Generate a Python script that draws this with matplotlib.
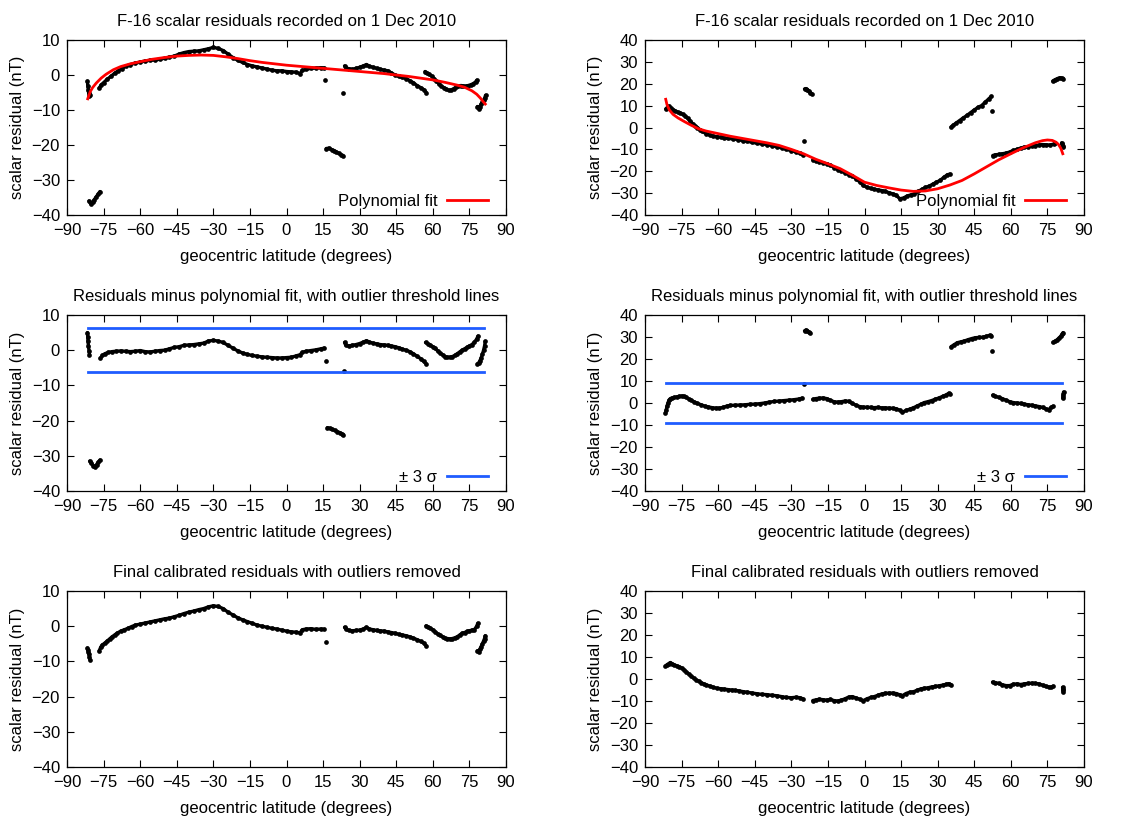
import numpy as np
import matplotlib
matplotlib.use("Agg")
import matplotlib.pyplot as plt

nan = np.nan

# ---------------------------------------------------------------------------
# Data (geocentric latitude in degrees, scalar residual in nT).
# NaN entries separate the individual passes / clusters of a series.
# ---------------------------------------------------------------------------

# Left column, row 1: raw residuals
tl_lat = [-81.6, -81.5, -81.3, -81.1, -80.8, -80.5, nan,
          -81.0, -80.3, -79.5, -78.8, -78.0, -77.2, -76.5, nan,
          -76.8, -76.0, -75.0, -73.5, -72.0, -70.5, -69.0, -67.5, -66.0, -64.0, -62.0, -60.0,
          -58.0, -56.0, -54.0, -52.0, -50.0, -48.0, -46.0, -44.0, -42.0, -40.0, -38.0, -36.0,
          -34.0, -32.0, -30.0, -28.0, -26.0, -24.0, -22.0, -20.0, -18.0, -16.0, -14.0, -12.0,
          -10.0, -8.0, -6.0, -4.0, -2.0, 0.0, 2.0, 4.0, 5.5, 6.5, 8.0, 10.0, 12.0, 14.0, 15.5, nan,
          15.8, nan,
          16.3, 17.5, 18.5, 19.5, 20.5, 21.5, 22.5, 23.2, nan,
          23.0, nan,
          23.8, 24.5, 25.5, 27.0, 28.5, 30.0, 31.5, 32.8, 34.0, 35.5, 37.0, 38.5, 40.0, 41.5,
          43.0, 44.5, 46.0, 47.5, 49.0, 50.5, 52.0, 53.5, 55.0, 56.3, 57.3, nan,
          56.8, 57.5, 58.5, 59.5, 60.5, 61.5, 62.5, 63.5, 64.5, 65.5, 66.5, 67.5, 68.5, 69.5,
          70.5, 71.5, 72.5, 73.5, 74.5, 75.5, 76.5, 77.5, 78.0, nan,
          78.3, 78.8, 79.3, 79.8, 80.3, 80.8, 81.3, 81.6]
tl_val = [-1.8, -3.0, -4.2, -5.2, -6.0, -5.6, nan,
          -36.0, -36.8, -36.3, -35.6, -34.8, -34.0, -33.3, nan,
          -3.8, -2.8, -2.2, -1.2, -0.4, 0.5, 1.2, 1.8, 2.5, 3.0, 3.4, 3.7,
          4.0, 4.2, 4.3, 4.5, 4.8, 5.1, 5.4, 6.0, 6.4, 6.7, 6.8, 6.9,
          7.2, 7.5, 7.9, 7.6, 7.0, 6.0, 5.0, 4.2, 3.6, 3.0, 2.6, 2.3,
          2.0, 1.7, 1.4, 1.2, 1.2, 1.0, 0.9, 0.8, 0.4, 1.3, 1.6, 1.9, 2.0, 2.1, 2.0, nan,
          -1.4, nan,
          -21.0, -20.9, -21.3, -21.6, -22.0, -22.4, -22.8, -23.0, nan,
          -5.0, nan,
          2.6, 2.0, 1.8, 1.6, 1.9, 2.2, 2.6, 3.0, 2.5, 2.2, 1.9, 1.6, 1.4, 1.2,
          0.6, 0.0, -0.4, -0.7, -1.0, -1.6, -2.2, -3.0, -3.6, -4.2, -5.0, nan,
          1.0, 0.5, 0.2, -0.3, -1.0, -1.8, -2.5, -3.2, -3.6, -4.0, -4.4, -4.3, -3.9, -3.5,
          -3.2, -3.0, -3.1, -3.2, -3.0, -2.8, -2.5, -2.0, -1.5, nan,
          -9.0, -9.6, -9.0, -8.3, -7.8, -7.2, -6.5, -5.8]

tl_fit_lat = [-81.5, -80.5, -79.5, -78.0, -76.0, -74.0, -71.0, -68.0, -64.0, -60.0, -55.0,
              -50.0, -45.0, -40.0, -35.0, -30.0, -25.0, -20.0, -15.0, -10.0, -5.0, 0.0, 10.0,
              20.0, 30.0, 40.0, 45.0, 50.0, 55.0, 60.0, 65.0, 70.0, 73.0, 76.0, 78.0, 79.5,
              80.5, 81.5]
tl_fit_val = [-6.8, -4.8, -3.6, -2.3, -0.9, 0.2, 1.5, 2.4, 3.2, 3.8, 4.5, 5.0, 5.4, 5.6, 5.7,
              5.6, 5.2, 4.7, 4.1, 3.6, 3.2, 2.8, 2.2, 1.6, 1.0, 0.4, 0.0, -0.4, -0.9, -1.4,
              -2.1, -2.9, -3.5, -4.5, -5.5, -6.6, -7.5, -8.3]

# Right column, row 1: raw residuals
tr_lat = [-81.5, -81.0, -80.3, -79.5, -78.5, -77.5, -76.5, -75.5, -74.5, -73.5, -72.5, -71.5,
          -70.5, -69.5, -68.5, -67.5, -66.5, -65.0, -63.5, -62.0, -60.5, -59.0, -57.5, -56.0,
          -54.0, -52.0, -50.0, -48.0, -46.0, -44.0, -42.0, -40.0, -38.0, -36.0, -34.0, -32.0,
          -30.0, -28.0, -26.5, -25.3, nan,
          -24.8, nan,
          -24.6, -24.0, -23.4, -22.8, -22.2, -21.6, nan,
          -21.2, -20.0, -18.5, -17.0, -15.5, -14.0, -12.5, -11.0, -9.5, -8.0, -6.5, -5.0,
          -3.5, -2.0, -0.5, 1.0, 2.5, 4.0, 5.5, 7.0, 8.5, 10.0, 11.5, 13.0, 14.5, 16.0, 17.5,
          19.0, 20.5, 22.0, 23.5, 25.0, 26.5, 28.0, 29.5, 31.0, 32.5, 34.0, 35.0, nan,
          35.5, 36.3, 37.5, 39.0, 40.5, 42.0, 43.5, 45.0, 46.5, 48.0, 49.5, 51.0, 52.0, nan,
          52.4, nan,
          52.6, 53.5, 55.0, 56.5, 58.0, 59.5, 61.0, 62.5, 64.0, 65.5, 67.0, 68.5, 70.0, 71.5,
          73.0, 74.5, 76.0, 77.5, 78.3, nan,
          80.8, 81.0, 81.3, 81.5, nan,
          77.2, 78.0, 79.0, 80.0, 80.8, 81.5]
tr_val = [8.5, 9.0, 9.8, 9.0, 8.2, 7.5, 7.0, 6.6, 6.0, 5.2, 4.2, 3.0,
          1.8, 0.8, 0.0, -1.0, -1.8, -2.8, -3.5, -4.0, -4.2, -4.4, -4.8, -5.0,
          -5.2, -5.5, -6.0, -6.3, -6.8, -7.2, -7.5, -7.8, -8.3, -8.8, -9.3, -10.0,
          -10.6, -11.2, -11.8, -12.5, nan,
          -6.0, nan,
          17.6, 17.8, 17.3, 16.6, 16.0, 15.3, nan,
          -14.8, -15.2, -15.6, -16.2, -16.6, -17.2, -18.3, -19.3, -19.8, -20.7, -21.5, -22.0,
          -23.5, -24.8, -26.5, -27.3, -27.8, -28.2, -28.5, -28.8, -29.2, -29.8, -30.3, -31.0,
          -32.6, -32.2, -31.3, -30.8, -30.4, -29.2, -28.3, -27.4, -26.8, -25.9, -25.0, -24.2,
          -22.8, -21.6, -21.3, nan,
          0.2, 1.0, 2.0, 3.2, 4.4, 5.5, 6.8, 8.0, 9.2, 10.0, 11.6, 13.2, 14.2, nan,
          7.6, nan,
          -12.8, -12.5, -12.3, -12.0, -11.7, -11.2, -10.5, -10.0, -9.4, -9.0, -8.8, -8.5,
          -8.3, -8.0, -7.8, -7.9, -8.0, -7.6, -7.2, nan,
          -7.0, -7.6, -8.3, -8.8, nan,
          21.2, 21.8, 22.3, 22.8, 22.6, 22.3]

tr_fit_lat = [-81.5, -81.0, -80.0, -78.5, -76.5, -74.0, -71.0, -68.0, -65.0, -60.0, -55.0,
              -50.0, -45.0, -40.0, -35.0, -30.0, -25.0, -20.0, -15.0, -10.0, -5.0, 0.0, 5.0,
              10.0, 15.0, 20.0, 25.0, 30.0, 35.0, 40.0, 45.0, 50.0, 55.0, 60.0, 65.0, 70.0,
              73.0, 75.0, 77.0, 78.5, 79.5, 80.5, 81.3]
tr_fit_val = [12.9, 10.5, 8.0, 6.0, 4.4, 2.8, 1.0, -0.6, -1.6, -2.8, -4.0, -5.0, -6.0, -7.0,
              -8.2, -10.0, -12.0, -14.5, -16.6, -18.8, -21.8, -25.0, -26.5, -27.6, -28.6,
              -29.2, -29.0, -28.0, -26.3, -24.2, -21.2, -18.0, -14.8, -12.0, -9.3, -7.0, -6.0,
              -5.7, -5.9, -6.7, -7.7, -9.5, -12.0]

# Left column, row 2: residuals minus fit
ml_lat = [-81.6, -81.5, -81.4, -81.2, -81.0, -80.8, nan,
          -80.7, -80.0, -79.3, -78.6, -77.9, -77.2, -76.5, nan,
          -76.3, -75.5, -74.5, -73.0, -71.5, -70.0, -68.0, -66.0, -64.0, -62.0, -60.0, -58.0,
          -56.0, -54.0, -52.0, -50.0, -48.0, -46.0, -44.0, -42.0, -40.0, -38.0, -36.0, -34.0,
          -32.0, -30.0, -28.0, -26.0, -24.0, -22.0, -20.0, -18.0, -16.0, -14.0, -12.0, -10.0,
          -8.0, -6.0, -4.0, -2.0, 0.0, 2.0, 4.0, 5.5, 6.5, 8.0, 10.0, 12.0, 14.0, 15.5, nan,
          16.3, nan,
          16.8, 17.8, 18.8, 19.8, 20.8, 21.8, 22.8, 23.3, nan,
          23.4, nan,
          23.8, 24.3, 25.5, 27.0, 28.5, 30.0, 31.5, 32.8, 34.0, 35.5, 37.0, 38.5, 40.0, 41.5,
          43.0, 44.5, 46.0, 47.5, 49.0, 50.5, 52.0, 53.5, 55.0, 56.3, 57.3, nan,
          57.0, 58.0, 59.0, 60.0, 61.0, 62.0, 63.0, 64.0, 65.0, 66.0, 67.0, 68.0, 69.0, 70.0,
          71.0, 72.0, 73.0, 74.0, 75.0, 76.0, 77.0, 78.0, 78.5, nan,
          78.3, 78.8, 79.3, 79.8, 80.3, 80.8, 81.2, 81.5]
ml_val = [5.0, 3.8, 2.5, 1.2, -0.2, -1.3, nan,
          -31.5, -32.0, -32.8, -33.2, -32.5, -31.8, -31.2, nan,
          -2.3, -1.5, -1.0, -0.6, -0.4, -0.3, -0.2, -0.3, -0.4, -0.3, -0.1, -0.4,
          -0.5, -0.3, -0.1, 0.0, 0.4, 0.8, 1.0, 1.4, 1.5, 1.6, 1.8, 2.0,
          2.6, 2.8, 2.6, 2.2, 1.4, 0.6, -0.2, -0.8, -1.2, -1.5, -1.7, -1.9,
          -2.0, -2.1, -2.2, -2.2, -2.1, -2.0, -1.6, -1.3, -0.6, -0.3, -0.1, 0.1, 0.4, 0.6, nan,
          -3.0, nan,
          -22.0, -22.2, -22.5, -22.8, -23.1, -23.4, -23.8, -24.0, nan,
          -5.8, nan,
          2.2, 1.4, 1.2, 1.4, 1.6, 1.9, 2.3, 2.7, 2.3, 2.0, 1.8, 1.6, 1.5, 1.4,
          1.2, 1.0, 0.7, 0.3, 0.0, -0.4, -1.0, -1.7, -2.4, -3.2, -3.9, nan,
          2.2, 1.8, 1.4, 1.0, 0.5, -0.2, -0.8, -1.3, -1.8, -2.0, -2.0, -1.8, -1.5, -1.0,
          -0.5, 0.0, 0.4, 0.8, 1.2, 1.6, 2.2, 3.2, 4.0, nan,
          -3.9, -3.6, -3.0, -2.2, -1.2, 0.0, 1.2, 2.5]

# Right column, row 2: residuals minus fit
mr_lat = [-81.6, -81.3, -81.0, -80.6, -80.2, -79.6, -79.0, -78.0, -77.0, -76.0, -75.0, -74.0,
          -73.0, -72.0, -71.0, -70.0, -68.5, -67.0, -65.5, -64.0, -62.5, -61.0, -59.5, -58.0,
          -56.5, -55.0, -53.0, -51.0, -49.0, -47.0, -45.0, -43.0, -41.0, -39.0, -37.0, -35.0,
          -33.0, -31.0, -29.0, -27.0, -25.5, nan,
          -24.8, nan,
          -24.6, -24.0, -23.4, -22.8, -22.2, nan,
          -21.2, -20.0, -18.5, -17.0, -15.5, -14.0, -12.5, -11.0, -9.5, -8.0, -6.5, -5.0,
          -3.5, -2.0, -0.5, 1.0, 2.5, 4.0, 5.5, 7.0, 8.5, 10.0, 11.5, 13.0, 14.5, 15.5, 17.0,
          18.5, 20.0, 21.5, 23.0, 24.5, 26.0, 27.5, 29.0, 30.5, 32.0, 33.5, 34.5, 35.2, nan,
          35.5, 36.5, 38.0, 39.5, 41.0, 42.5, 44.0, 45.5, 47.0, 48.5, 50.0, 51.3, 52.0, nan,
          52.4, nan,
          52.6, 53.5, 55.0, 56.5, 58.0, 59.5, 61.0, 62.5, 64.0, 65.5, 67.0, 68.5, 70.0, 71.5,
          73.0, 74.5, 75.5, 76.5, 77.3, nan,
          77.3, 78.0, 78.8, 79.6, 80.4, 81.0, 81.4, nan,
          81.3, 81.4, 81.5, 81.6]
mr_val = [-4.6, -3.2, -1.5, 0.0, 1.2, 2.0, 2.3, 2.5, 2.8, 3.0, 3.2, 3.0,
          2.5, 1.8, 1.2, 0.6, -0.2, -0.8, -1.4, -1.8, -2.1, -2.3, -2.3, -2.0,
          -1.4, -1.1, -1.0, -0.9, -0.8, -0.6, -0.5, -0.3, 0.0, 0.4, 0.7, 0.9,
          1.1, 1.3, 1.5, 1.8, 2.2, nan,
          8.8, nan,
          32.8, 33.2, 32.8, 32.2, 31.6, nan,
          1.6, 2.0, 2.2, 2.3, 2.0, 1.2, 0.6, 0.4, 0.6, 0.9, 0.8, -0.2,
          -1.0, -1.6, -1.9, -1.9, -2.0, -2.1, -2.0, -2.2, -2.2, -2.3, -2.4, -2.6, -3.3, -4.2, -3.4,
          -2.8, -2.2, -1.4, -0.6, 0.2, 0.6, 1.1, 1.7, 2.3, 3.0, 3.7, 4.4, 3.9, nan,
          25.6, 26.3, 27.4, 27.8, 28.2, 28.8, 29.3, 29.7, 29.8, 29.9, 30.3, 30.8, 30.6, nan,
          23.8, nan,
          3.6, 3.0, 2.6, 2.0, 1.3, 0.6, 0.2, 0.0, -0.2, -0.5, -0.8, -1.0, -1.3, -1.6,
          -2.0, -2.7, -3.0, -2.0, -1.5, nan,
          27.5, 28.0, 28.6, 29.4, 30.3, 31.2, 32.0, nan,
          2.2, 3.2, 4.2, 5.0]

# Outlier thresholds (+/- 3 sigma) and the latitude span they cover
ml_sigma3 = 6.3
mr_sigma3 = 8.9
threshold_span = [-81.5, 81.0]

# Left column, row 3: final calibrated residuals
bl_lat = [-81.6, -81.4, -81.2, -81.0, -80.8, -80.6, nan,
          -76.8, -76.2, -75.5, -74.5, -73.5, -72.5, -71.5, -70.5, -69.5, -68.0, -66.5, -65.0,
          -63.5, -62.0, -60.0, -58.0, -56.0, -54.0, -52.0, -50.0, -48.0, -46.0, -44.0, -42.0,
          -40.0, -38.0, -36.0, -34.0, -32.0, -30.0, -28.0, -26.0, -24.0, -22.0, -20.0, -18.0,
          -16.0, -14.0, -12.0, -10.0, -8.0, -6.0, -4.0, -2.0, 0.0, 2.0, 4.0, 5.5, 6.5, 8.0,
          10.0, 12.0, 14.0, 15.5, nan,
          16.3, nan,
          23.8, 24.5, 25.5, 27.0, 28.5, 30.0, 31.5, 32.8, 34.0, 35.5, 37.0, 38.5, 40.0, 41.5,
          43.0, 44.5, 46.0, 47.5, 49.0, 50.5, 52.0, 53.5, 55.0, 56.3, 57.3, nan,
          57.2, 58.0, 59.0, 60.0, 61.0, 62.0, 63.0, 64.0, 65.0, 66.0, 67.0, 68.0, 69.0, 70.0,
          71.0, 72.0, 73.0, 74.0, 75.0, 76.0, 77.0, 78.0, 78.4, nan,
          78.3, 78.8, 79.3, 79.8, 80.3, 80.8, 81.2, 81.5]
bl_val = [-6.2, -6.8, -7.4, -8.0, -8.8, -9.5, nan,
          -7.0, -6.0, -5.3, -4.8, -4.2, -3.6, -3.0, -2.5, -2.0, -1.4, -1.0, -0.6,
          -0.1, 0.3, 0.6, 0.9, 1.2, 1.5, 1.8, 2.1, 2.3, 2.7, 3.1, 3.6,
          4.0, 4.3, 4.7, 5.0, 5.5, 5.8, 5.6, 5.0, 4.0, 3.2, 2.4, 1.8,
          1.3, 0.8, 0.3, 0.0, -0.3, -0.6, -0.8, -1.1, -1.4, -1.6, -1.7, -1.9, -1.0, -0.8,
          -0.7, -0.9, -0.8, -0.9, nan,
          -4.5, nan,
          -0.3, -0.9, -1.2, -1.3, -1.2, -1.1, -0.8, -0.3, -0.8, -1.0, -1.2, -1.3, -1.4, -1.6,
          -1.8, -2.0, -2.3, -2.5, -2.7, -3.0, -3.4, -3.8, -4.3, -4.8, -5.6, nan,
          0.1, -0.2, -0.6, -1.0, -1.6, -2.2, -2.6, -3.0, -3.4, -3.5, -3.6, -3.5, -3.3, -3.0,
          -2.5, -2.0, -1.8, -1.5, -1.3, -1.1, -1.0, 0.0, 0.8, nan,
          -7.0, -7.2, -6.5, -5.8, -5.0, -4.2, -3.5, -2.7]

# Right column, row 3: final calibrated residuals
br_lat = [-81.6, -81.0, -80.3, -79.6, -79.0, -78.0, -77.0, -76.0, -75.0, -74.0, -73.0, -72.0,
          -71.0, -70.0, -69.0, -68.0, -67.0, -66.0, -65.0, -63.5, -62.0, -60.5, -59.0, -57.5,
          -56.0, -54.5, -53.0, -51.5, -50.0, -48.0, -46.0, -44.0, -42.0, -40.0, -38.0, -36.0,
          -34.0, -32.0, -30.0, -28.0, -26.5, -25.3, nan,
          -21.2, -20.0, -18.5, -17.0, -15.5, -14.0, -12.5, -11.0, -9.5, -8.0, -6.5, -5.0,
          -3.5, -2.0, -0.5, 1.0, 2.5, 4.0, 5.5, 7.0, 8.5, 10.0, 11.5, 13.0, 14.5, 15.5, 17.0,
          18.5, 20.0, 21.5, 23.0, 24.5, 26.0, 27.5, 29.0, 30.5, 32.0, 33.5, 34.5, 35.5, nan,
          52.5, 53.5, 55.0, 56.5, 58.0, 59.5, 61.0, 62.5, 64.0, 65.5, 67.0, 68.5, 70.0, 71.5,
          73.0, 74.5, 75.5, 76.5, 77.3, nan,
          81.2, 81.3, 81.4, 81.5]
br_val = [5.8, 6.5, 7.0, 7.5, 7.0, 6.4, 6.0, 5.6, 5.0, 4.2, 3.2, 2.2,
          1.2, 0.4, -0.4, -1.0, -1.6, -2.2, -2.6, -3.2, -3.8, -4.2, -4.4, -4.6,
          -4.8, -5.0, -5.2, -5.4, -5.7, -6.0, -6.4, -6.7, -7.0, -7.1, -7.4, -7.6,
          -8.0, -8.4, -8.5, -8.3, -8.5, -9.0, nan,
          -9.8, -9.5, -9.2, -9.4, -9.6, -9.3, -9.8, -10.0, -9.6, -9.0, -8.2, -8.0,
          -8.6, -9.2, -9.8, -9.0, -8.4, -8.0, -7.4, -6.8, -6.5, -6.4, -6.4, -6.6, -7.2, -7.6, -6.6,
          -6.0, -5.8, -5.2, -4.5, -4.2, -4.0, -3.6, -3.4, -3.1, -2.8, -2.4, -2.1, -2.6, nan,
          -1.4, -1.6, -2.0, -2.6, -3.0, -3.0, -2.4, -2.2, -2.5, -2.2, -2.0, -1.9, -2.0, -2.2,
          -2.8, -3.4, -3.6, -3.8, -3.3, nan,
          -3.8, -4.5, -5.2, -5.9]

x_ticks = list(range(-90, 91, 15))
left_yticks = list(range(-40, 11, 10))
right_yticks = list(range(-40, 41, 10))

title_raw = "F-16 scalar residuals recorded on 1 Dec 2010"
title_mid = "Residuals minus polynomial fit, with outlier threshold lines"
title_final = "Final calibrated residuals with outliers removed"
x_label = "geocentric latitude (degrees)"
y_label = "scalar residual (nT)"
fit_label = "Polynomial fit"
sigma_label = "± 3 σ"

# ---------------------------------------------------------------------------
plt.rcParams["font.family"] = ["Liberation Sans", "DejaVu Sans"]
FS = 12.0
FIT_RED = "#ff0000"
SIGMA_BLUE = "#1f5cff"

fig = plt.figure(figsize=(11.46, 8.21), dpi=100)
W, H = 1146.0, 821.0


def make_axes(x0, y0, x1, y1):
    return fig.add_axes([x0 / W, 1 - y1 / H, (x1 - x0) / W, (y1 - y0) / H])


def style(ax, yticks, title):
    ax.set_xlim(-90, 90)
    ax.set_ylim(yticks[0], yticks[-1])
    ax.set_xticks(x_ticks)
    ax.set_yticks(yticks)
    ax.tick_params(direction="in", length=5, width=0.8, top=True, right=True,
                   labelsize=FS, pad=6, colors="black")
    ax.tick_params(axis="y", pad=5)
    for sp in ax.spines.values():
        sp.set_linewidth(0.9)
    ax.set_title(title, fontsize=FS, pad=10)
    ax.set_xlabel(x_label, fontsize=FS, labelpad=8)
    ax.set_ylabel(y_label, fontsize=FS, labelpad=5)


def scatter_series(ax, lat, val):
    ax.plot(lat, val, color="black", lw=2.4, marker="o", ms=3.4, mew=0,
            solid_capstyle="round", solid_joinstyle="round", zorder=3)


def key(ax):
    ax.legend(loc="lower right", bbox_to_anchor=(0.959, 0.035), frameon=False,
              markerfirst=False, fontsize=FS, handlelength=2.45,
              handletextpad=0.6, borderpad=0, borderaxespad=0)


cols = [(67, 506, left_yticks), (645, 1084, right_yticks)]
rows = [(40, 215), (315, 491), (591, 767)]

raw = [(tl_lat, tl_val, tl_fit_lat, tl_fit_val), (tr_lat, tr_val, tr_fit_lat, tr_fit_val)]
mid = [(ml_lat, ml_val, ml_sigma3), (mr_lat, mr_val, mr_sigma3)]
fin = [(bl_lat, bl_val), (br_lat, br_val)]

for c, (x0, x1, yt) in enumerate(cols):
    # row 1: residuals and polynomial fit
    ax = make_axes(x0, rows[0][0], x1, rows[0][1])
    style(ax, yt, title_raw)
    lat, val, flat, fval = raw[c]
    scatter_series(ax, lat, val)
    ax.plot(flat, fval, color=FIT_RED, lw=2.0, label=fit_label, zorder=4)
    key(ax)

    # row 2: residuals minus fit with thresholds
    ax = make_axes(x0, rows[1][0], x1, rows[1][1])
    style(ax, yt, title_mid)
    lat, val, s3 = mid[c]
    scatter_series(ax, lat, val)
    ax.plot(threshold_span, [s3, s3], color=SIGMA_BLUE, lw=2.0, label=sigma_label, zorder=4)
    ax.plot(threshold_span, [-s3, -s3], color=SIGMA_BLUE, lw=2.0, zorder=4)
    key(ax)

    # row 3: final calibrated residuals
    ax = make_axes(x0, rows[2][0], x1, rows[2][1])
    style(ax, yt, title_final)
    lat, val = fin[c]
    scatter_series(ax, lat, val)

fig.savefig("out.png", dpi=100)
